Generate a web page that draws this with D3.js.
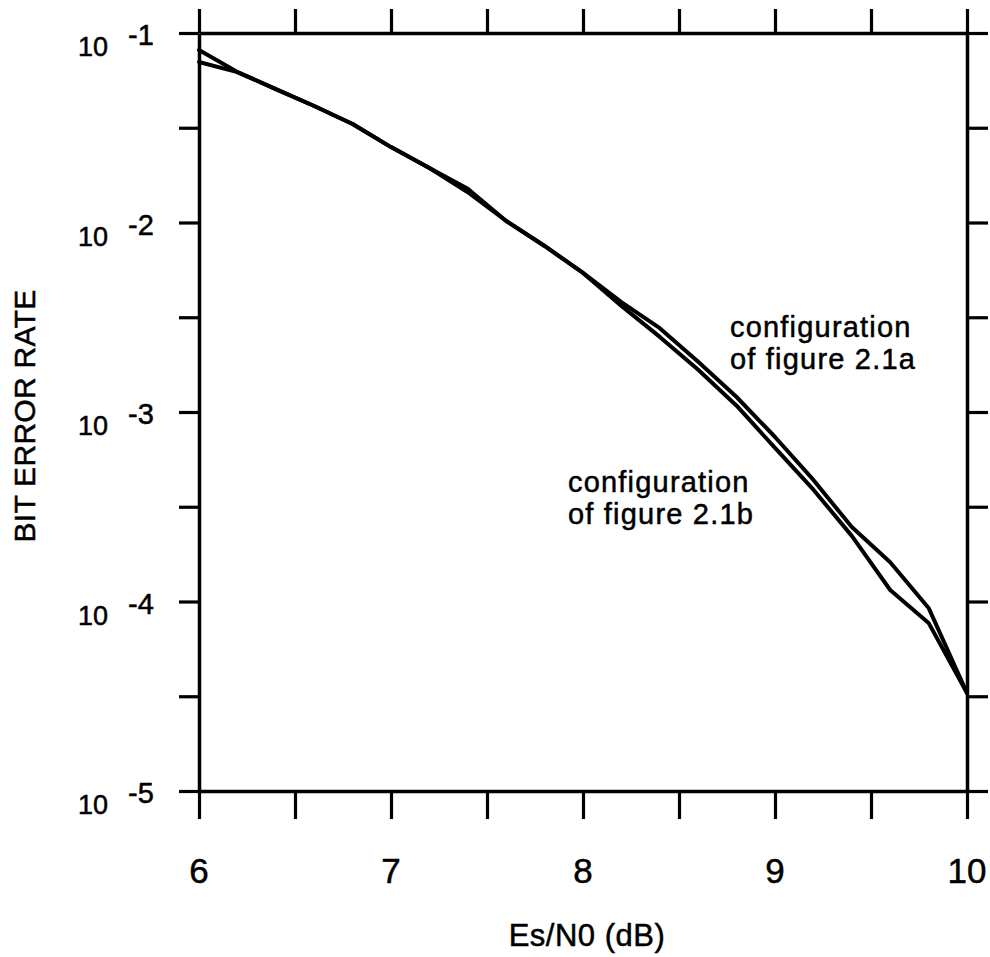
<!DOCTYPE html>
<html><head><meta charset="utf-8">
<script src="https://cdn.jsdelivr.net/npm/d3@7"></script>
<style>
body{margin:0;background:#fff}
svg{display:block}
text{font-family:"Liberation Sans",Arial,Helvetica,sans-serif;fill:#000;stroke:#000;stroke-width:0.5px}
</style>
</head><body><svg id="chart" width="990" height="957"></svg>
<script>
// ---- data ----
const esN0 = [6.0,6.2,6.4,6.6,6.8,7.0,7.2,7.4,7.6,7.8,8.0,8.2,8.4,8.6,8.8,9.0,9.2,9.4,9.6,9.8,10.0];
const berConfigA = [0.0703,0.0622,0.0506,0.0412,0.0331,0.0250,0.0194,0.01507,0.01019,0.00752,0.00542,0.00380,0.00277,0.00184,0.00120,0.000738,0.000438,0.000247,0.000161,0.0000925,0.0000329];
const berConfigB = [0.0813,0.0622,0.0506,0.0412,0.0331,0.0250,0.0194,0.01445,0.01019,0.00752,0.00542,0.00363,0.00249,0.00167,0.00108,0.000646,0.000389,0.000222,0.000115,0.0000771,0.0000329];
const xTickValues = [6,6.5,7,7.5,8,8.5,9,9.5,10];
const xLabelValues = [6,7,8,9,10];
const yTickValues = [1e-1,0.0316228,1e-2,0.00316228,1e-3,0.000316228,1e-4,0.0000316228,1e-5];
const yDecadeValues = [1e-1,1e-2,1e-3,1e-4,1e-5];
const yDecadeExponents = ["-1","-2","-3","-4","-5"];
const xTitle = "Es/N0 (dB)";
const yTitle = "BIT ERROR RATE";
const labelA = ["configuration","of figure 2.1a"];
const labelB = ["configuration","of figure 2.1b"];

// ---- layout ----
const svg = d3.select("#chart");
const L = 199, R = 967, T = 33, B = 791;
const x = d3.scaleLinear().domain([6,10]).range([L,R]);
const y = d3.scaleLog().domain([1e-5,1e-1]).range([B,T]);

function styleAxis(g){
  g.select(".domain").attr("stroke","#000").attr("stroke-width",3.5);
  g.selectAll(".tick line").attr("stroke","#000").attr("stroke-width",3.2);
  g.selectAll(".tick text").remove();
}
svg.append("g").attr("transform",`translate(0,${B})`)
  .call(d3.axisBottom(x).tickValues(xTickValues).tickSize(28).tickSizeOuter(0).tickFormat(""))
  .call(styleAxis);
svg.append("g").attr("transform",`translate(0,${T})`)
  .call(d3.axisTop(x).tickValues(xTickValues).tickSize(24).tickSizeOuter(0).tickFormat(""))
  .call(styleAxis);
svg.append("g").attr("transform",`translate(${L},0)`)
  .call(d3.axisLeft(y).tickValues(yTickValues).tickSize(20).tickSizeOuter(0).tickFormat(""))
  .call(styleAxis);
svg.append("g").attr("transform",`translate(${R},0)`)
  .call(d3.axisRight(y).tickValues(yTickValues).tickSize(21).tickSizeOuter(0).tickFormat(""))
  .call(styleAxis);

// x tick labels
svg.append("g").selectAll("text").data(xLabelValues).join("text")
  .attr("x",d=>x(d)).attr("y",883).attr("text-anchor","middle")
  .attr("font-size",35).text(d=>d);

// y tick labels 10^n
const yl = svg.append("g").selectAll("g").data(yDecadeValues).join("g");
yl.append("text").attr("x",108).attr("y",d=>y(d)+23).attr("text-anchor","end")
  .attr("font-size",27).text("10");
yl.append("text").attr("x",128).attr("y",d=>y(d)+12).attr("text-anchor","start")
  .attr("font-size",29).text((d,i)=>yDecadeExponents[i]);

// titles
svg.append("text").attr("x",587).attr("y",946).attr("text-anchor","middle")
  .attr("font-size",31).attr("letter-spacing",0.5).text(xTitle);
svg.append("text").attr("transform","translate(35,416) rotate(-90)").attr("text-anchor","middle")
  .attr("font-size",30).attr("letter-spacing",0.3).text(yTitle);

// curves
const line = d3.line().x(d=>x(d[0])).y(d=>y(d[1]));
[berConfigA,berConfigB].forEach(s=>{
  svg.append("path").datum(esN0.map((v,i)=>[v,s[i]]))
    .attr("d",line).attr("fill","none").attr("stroke","#000")
    .attr("stroke-width",4).attr("stroke-linejoin","round").attr("stroke-linecap","round");
});

// annotations
function label(lines,x0,y0,dy){
  svg.append("g").selectAll("text").data(lines).join("text")
    .attr("x",x0).attr("y",(d,i)=>y0+i*dy).attr("font-size",29)
    .attr("letter-spacing",1.2).text(d=>d);
}
label(labelA,730,337,32);
label(labelB,568,492,32);
</script></body></html>
